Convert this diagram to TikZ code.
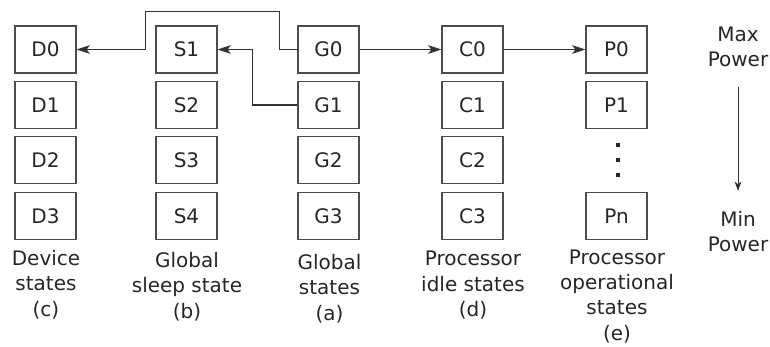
\documentclass[tikz,border=0pt]{standalone}
\usepackage{fontspec}
\setmainfont{DejaVu Sans}
\usepackage{xcolor}
\usetikzlibrary{arrows.meta, positioning, calc}

\tikzset{
  statebox/.style={draw=black!70, line width=0.9pt, minimum width=45.75pt, minimum height=35.25pt, inner sep=0pt, text=black!85},
  caption/.style={align=center, anchor=base, text=black!85},
  link/.style={draw=black!80, line width=0.8pt, -{Stealth[length=10pt, width=6.5pt, inset=2.5pt]}},
  pdot/.style={fill=black!85, minimum size=2.4pt, inner sep=0pt}
}

\begin{document}
\begin{tikzpicture}[x=0.75pt, y=-0.75pt, font=\fontsize{15}{19}\selectfont]
    \useasboundingbox (0,0) rectangle (770,346);

    \foreach \x/\col/\first in {45.5/D/0, 186.5/S/1, 328.5/G/0, 472.5/C/0}
      \foreach \r/\y in {0/49.5, 1/105, 2/160, 3/216} {
        \pgfmathtruncatemacro{\n}{\r+\first}
        \node[statebox] (\col\n) at (\x,\y) {\col\n};
      }

    \node[statebox] (P0) at (616.5,49.5) {P0};
    \node[statebox] (P1) at (616.5,105) {P1};
    \node[statebox] (Pn) at (616.5,216) {Pn};
    \foreach \y [count=\i] in {145,160,175}
      \node[pdot] (dot\i) at (618,\y) {};

    \node[caption] (capc) at (46,316) {Device\\states\\(c)};
    \node[caption] (capb) at (187,318) {Global\\sleep state\\(b)};
    \node[caption] (capa) at (329.5,320) {Global\\states\\(a)};
    \node[caption] (capd) at (473,316.5) {Processor\\idle states\\(d)};
    \node[caption] (cape) at (617,340) {Processor\\operational\\states\\(e)};

    \node[caption] (maxp) at (738,67) {Max\\Power};
    \node[caption] (minp) at (738,251.5) {Min\\Power};

    \draw[link] (G0.west) -- ++(-18,0) -- ++(0,-38) -| ([xshift=52]D0.east) -- (D0.east);
    \draw[link] (G1.west) -- ++(-45,0) |- (S1.east);
    \draw[link] (G0) -- (C0);
    \draw[link] (C0) -- (P0);
    \draw[draw=black!80, line width=0.7pt, -{Stealth[length=7pt, width=5pt, inset=2pt]}]
      ([yshift=-11pt]maxp.south) -- ([yshift=11.5pt]minp.north);
  \end{tikzpicture}
\end{document}
